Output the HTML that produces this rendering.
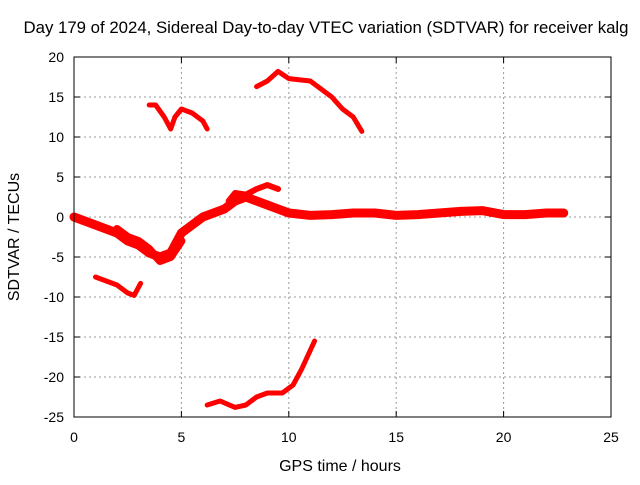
<!DOCTYPE html>
<html><head><meta charset="utf-8"><style>
body{margin:0;background:#fff}
svg text{font-family:"Liberation Sans",sans-serif;font-size:14px;fill:#000}
</style></head><body>
<svg id="chart" width="640" height="480">
<rect width="640" height="480" fill="#fff"/>
<text x="326" y="33" text-anchor="middle" style="font-size:16.8px">Day 179 of 2024, Sidereal Day-to-day VTEC variation (SDTVAR) for receiver kalg</text>
<text x="340" y="471" text-anchor="middle" style="font-size:16px">GPS time / hours</text>
<text x="0" y="0" transform="translate(19,237) rotate(-90)" text-anchor="middle" style="font-size:16px">SDTVAR / TECUs</text>
<g id="grid"></g><g id="ticks"></g><g id="series"></g>
<rect x="74" y="57" width="537" height="360" fill="none" stroke="#000" stroke-width="1"/>
</svg>
<script>
const xTicks=[0,5,10,15,20,25];
const yTicks=[20,15,10,5,0,-5,-10,-15,-20,-25];
const mainBand=[[0,0],[0.5,-0.5],[1,-1],[1.5,-1.5],[2,-2],[2.5,-3],[3,-3.5],[3.5,-4.5],[4,-5],[4.5,-4.5],[5,-2],[5.5,-1],[6,0],[6.5,0.5],[7,1],[7.5,2],[8,2.5],[8.5,2],[9,1.5],[9.5,1],[10,0.5],[11,0.2],[12,0.3],[13,0.5],[14,0.5],[15,0.2],[16,0.3],[17,0.5],[18,0.7],[19,0.8],[20,0.3],[21,0.3],[22,0.5],[22.8,0.5]];
const upperBranch=[[7.2,2],[7.5,3],[8,2.8],[8.5,3.5],[9,4],[9.5,3.5]];
const lowerBranch=[[2,-1.5],[2.5,-2.5],[3,-3],[3.5,-4],[4,-5.5],[4.5,-5],[5,-3]];
const morningHigh=[[3.5,14],[3.8,14],[4.2,12.5],[4.5,11],[4.7,12.5],[5,13.5],[5.5,13],[6,12],[6.2,11]];
const noonHigh=[[8.5,16.3],[9,17],[9.5,18.2],[10,17.3],[11,17],[12,15],[12.5,13.5],[13,12.5],[13.4,10.7]];
const earlyLow=[[1,-7.5],[1.5,-8],[2,-8.5],[2.5,-9.5],[2.8,-9.8],[3.1,-8.3]];
const deepLow=[[6.2,-23.5],[6.8,-23],[7.5,-23.8],[8,-23.5],[8.5,-22.5],[9,-22],[9.7,-22],[10.2,-21],[10.6,-19],[11.2,-15.5]];
const NS='http://www.w3.org/2000/svg';
const X=v=>74+v*537/25, Y=v=>217-v*8;
function mk(t,a,p){const e=document.createElementNS(NS,t);for(const k in a)e.setAttribute(k,a[k]);p.appendChild(e);return e;}
const g=document.getElementById('grid'),tk=document.getElementById('ticks'),s=document.getElementById('series');
xTicks.forEach(v=>{
 if(v>0&&v<25){const l=mk('line',{x1:X(v),x2:X(v),y1:57,y2:417,stroke:'#999','stroke-dasharray':'2,3'},g);
 
 }
 mk('line',{x1:X(v),x2:X(v),y1:417,y2:411,stroke:'#000'},tk);
 mk('line',{x1:X(v),x2:X(v),y1:57,y2:63,stroke:'#000'},tk);
 const t=mk('text',{x:X(v),y:442,'text-anchor':'middle'},tk);t.textContent=v;
 
 
});
yTicks.forEach(v=>{
 if(v>-25&&v<20){const l=mk('line',{x1:74,x2:611,y1:Y(v),y2:Y(v),stroke:'#999','stroke-dasharray':'2,3'},g);
 
 }
 mk('line',{x1:74,x2:80,y1:Y(v),y2:Y(v),stroke:'#000'},tk);
 mk('line',{x1:611,x2:605,y1:Y(v),y2:Y(v),stroke:'#000'},tk);
 const t=mk('text',{x:64,y:Y(v)+5,'text-anchor':'end'},tk);t.textContent=v;
 
 
});
[[mainBand,9,'main-band'],[upperBranch,6,'upper-branch'],[lowerBranch,8,'lower-branch'],[morningHigh,5,'morning-high-arc'],[noonHigh,5,'noon-high-arc'],[earlyLow,5,'early-low-arc'],[deepLow,5,'deep-low-arc']].forEach(([d,w,n])=>{
 const p=mk('polyline',{points:d.map(q=>X(q[0])+','+Y(q[1])).join(' '),fill:'none',stroke:'#f00','stroke-width':w,'stroke-linejoin':'round','stroke-linecap':'round'},s);
 
 
});
</script>
</body></html>
